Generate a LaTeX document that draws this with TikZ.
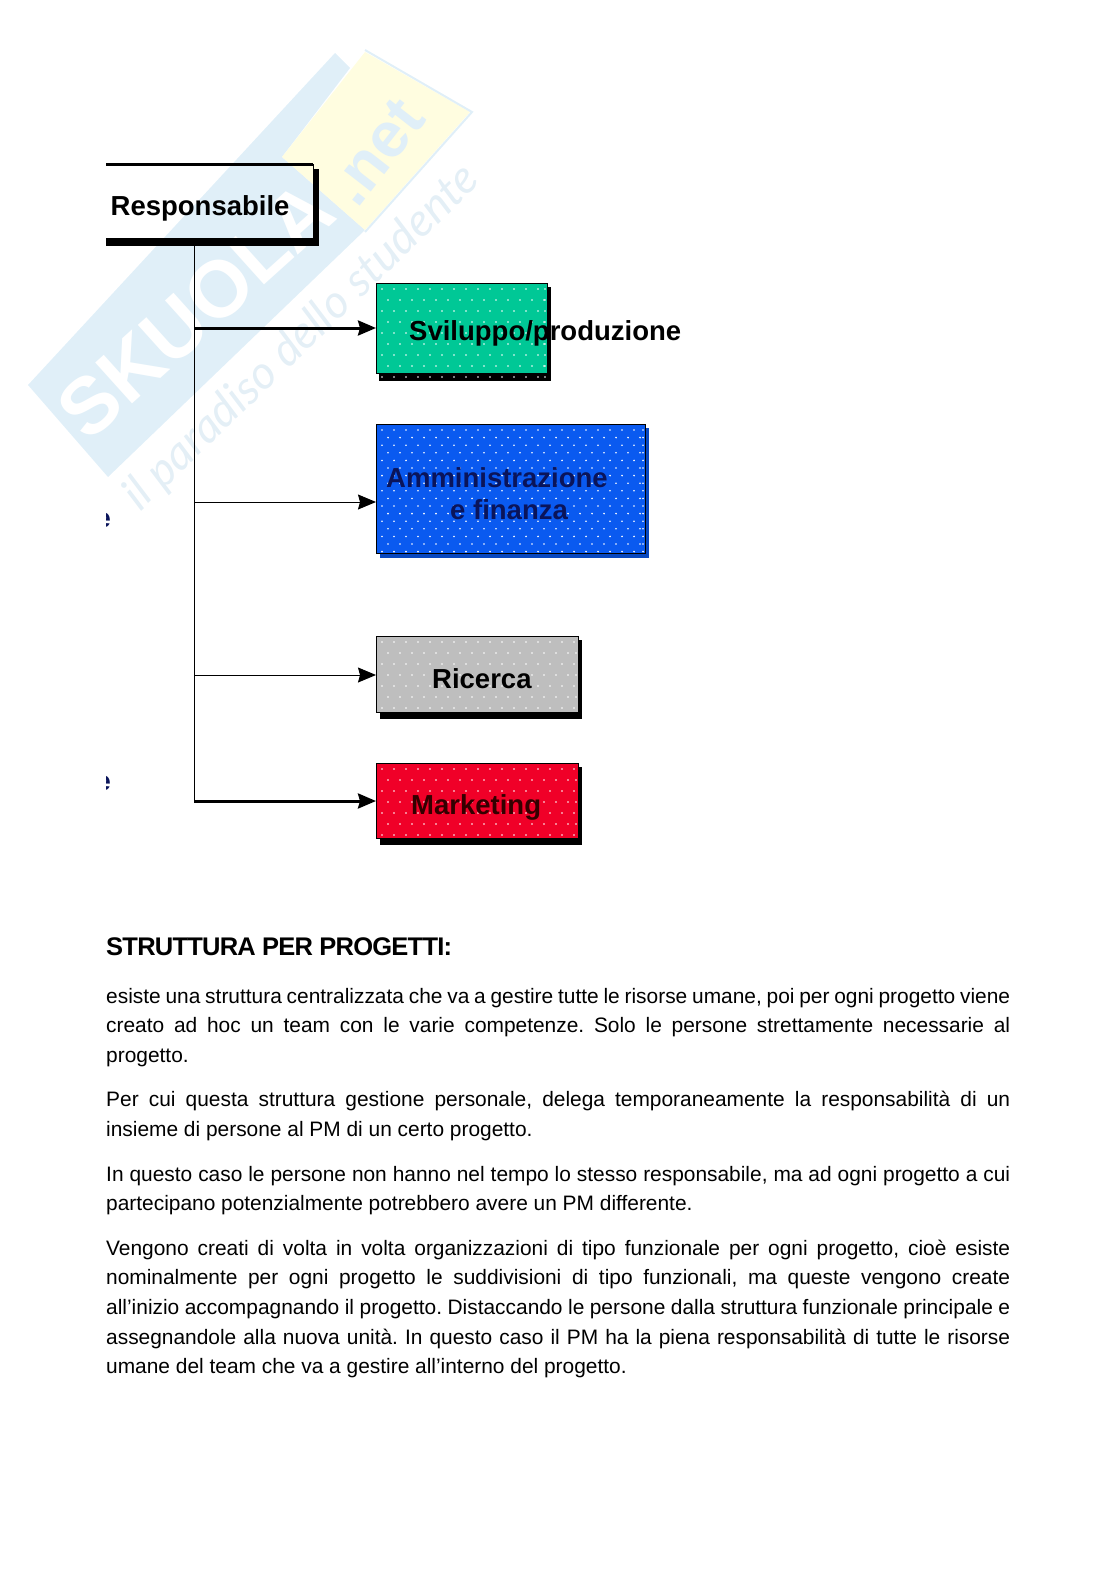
\documentclass[tikz,border=0pt]{standalone}
\usepackage{fontspec}
\setmainfont{Liberation Sans}
\newfontfamily\wmfont{Lato}[ItalicFont=* Italic]
\usetikzlibrary{arrows.meta}
\definecolor{wmblue}{RGB}{224,239,248}
\definecolor{wmyellow}{RGB}{255,253,224}
\definecolor{wmtext}{RGB}{228,239,246}
\definecolor{cgreen}{RGB}{0,200,150}
\definecolor{cblue}{RGB}{10,90,240}
\definecolor{cgrey}{RGB}{190,190,190}
\definecolor{cred}{RGB}{240,0,40}
\definecolor{navy}{RGB}{10,20,90}
\newcommand{\wdots}[5]{%
  \pgfmathtruncatemacro\nr{(#4-#2)/#5}%
  \pgfmathtruncatemacro\nc{(#3-#1)/12}%
  \foreach \r in {0,...,\nr}{\foreach \c in {0,...,\nc}{%
    \pgfmathsetmacro\xx{min(#3-1,#1+5+12*\c+6*mod(\r,2))}%
    \pgfmathsetmacro\yy{#2+5+#5*\r}%
    \fill[white] (\xx,\yy) circle[radius=0.9];}}}
\newcommand{\jl}[1]{\hbox to 904pt{\spaceskip=.278em plus 1fil minus .2em\relax #1}}
\tikzset{
  x=1pt,y=-1pt,
  boxlabel/.style={anchor=base west,inner sep=0pt,font=\fontsize{27.5}{30}\selectfont\bfseries},
  colorbox/.style={rectangle,inner sep=0pt,draw=black,line width=1.4pt,anchor=north west},
  shade/.style={fill=black},
  bodyline/.style={anchor=base west,inner sep=0pt,font=\fontsize{20.9}{24}\selectfont},
  heading/.style={anchor=base west,inner sep=0pt,font=\fontsize{25.5}{30}\selectfont\bfseries\addfontfeature{LetterSpace=-3}},
  thinlink/.style={line width=1pt,-{Stealth[length=18pt,width=15pt,inset=2pt]}},
  thicklink/.style={line width=3pt,-{Stealth[length=18pt,width=15pt,inset=2pt]}},
  trunk/.style={line width=1pt}
}
\begin{document}
\frenchspacing
\begin{tikzpicture}
\useasboundingbox (0,0) rectangle (1116,1579);
% watermark
\fill[wmblue] (28,385) -- (335,53) -- (350,68) -- (282,157) -- (365,230) -- (108,477) -- cycle;
\fill[wmyellow] (365,52) -- (470,112) -- (365,230) -- (282,157) -- cycle;
\draw[wmblue,line width=2pt] (365,50) -- (472,112) -- (365,232);
\node[rotate=42,text=white,inner sep=0pt,font=\fontsize{80}{90}\selectfont\bfseries] (wmname) at (196,310) {SKUOLA};
\node[rotate=52,text=wmblue,inner sep=0pt,font=\fontsize{64}{70}\selectfont\bfseries] (wmnet) at (376,152) {.net};
\node[rotate=44,text=wmtext,inner sep=0pt,font=\fontsize{46}{50}\selectfont\wmfont\itshape] (wmtag) at (302,338) {il paradiso dello studente};
% stray clipped fragments
\begin{scope}
\clip (106,500) rectangle (110,800);
\node[anchor=base east,inner sep=0pt,text=navy,font=\fontsize{27}{30}\selectfont\bfseries] (frag1) at (111,527) {e};
\node[anchor=base east,inner sep=0pt,text=navy,font=\fontsize{27}{30}\selectfont\bfseries] (frag2) at (111,790) {e};
\end{scope}
% shadows
\fill[shade] (106,238) rectangle (319,246);
\fill[shade] (313,169) rectangle (319,246);
\fill[shade] (379,287) rectangle (551,381);
\fill[cblue!80!black] (380,428) rectangle (649,558);
\fill[shade] (380,640) rectangle (582,719);
\fill[shade] (380,767) rectangle (582,845);
% boxes
\node[anchor=north west,inner sep=0pt,minimum width=207pt,minimum height=74pt] (resp) at (106,164) {};
\draw[line width=3pt] (resp.north west) -- (resp.north east);
\draw[line width=1.2pt] (resp.north east) -- (resp.south east);
\node[colorbox,fill=cgreen,minimum width=171pt,minimum height=90pt] (svil) at (376,283) {};
\node[colorbox,fill=cblue,minimum width=269pt,minimum height=129pt] (amm) at (376,424) {};
\node[colorbox,fill=cgrey,minimum width=202pt,minimum height=76pt] (ric) at (376,636) {};
\node[colorbox,fill=cred,minimum width=202pt,minimum height=75pt] (mkt) at (376,763) {};
% dots
\wdots{377}{284}{546}{372}{11}
\wdots{377}{425}{644}{552}{7.6}
\wdots{377}{637}{577}{711}{11}
\wdots{377}{764}{577}{837}{11}
% connectors
\coordinate (j0) at (194,246);
\coordinate (j1) at (194,328);
\coordinate (j2) at (194,502);
\coordinate (j3) at (194,675);
\coordinate (j4) at (194,801);
\draw[trunk] (j0) -- (j4);
\draw[thicklink] (j1) -- (j1 -| svil.west);
\draw[thinlink] (j2) -- (j2 -| amm.west);
\draw[thinlink] (j3) -- (j3 -| ric.west);
\draw[thicklink] (j4) -- (j4 -| mkt.west);
% labels
\node[boxlabel] (t0) at (110.5,215) {Responsabile};
\node[boxlabel] (t1) at (409,340) {Sviluppo/produzione};
\node[boxlabel,text=navy] (t2) at (386,487) {Amministrazione};
\node[boxlabel,text=navy] (t3) at (450,519.5) {e finanza};
\node[boxlabel] (t4) at (432,688) {Ricerca};
\node[boxlabel,text=black!80!red] (t5) at (411,814) {Marketing};
% text
\node[heading] (h) at (106,955) {STRUTTURA PER PROGETTI:};
\node[bodyline] (l1) at (106,1003) {\jl{esiste una struttura centralizzata che va a gestire tutte le risorse umane, poi per ogni progetto viene}};
\node[bodyline] (l2) at (106,1032) {\jl{creato ad hoc un team con le varie competenze. Solo le persone strettamente necessarie al}};
\node[bodyline] (l3) at (106,1062) {progetto.};
\node[bodyline] (l4) at (106,1106) {\jl{Per cui questa struttura gestione personale, delega temporaneamente la responsabilità di un}};
\node[bodyline] (l5) at (106,1136) {insieme di persone al PM di un certo progetto.};
\node[bodyline] (l6) at (106,1181) {\jl{In questo caso le persone non hanno nel tempo lo stesso responsabile, ma ad ogni progetto a cui}};
\node[bodyline] (l7) at (106,1210) {partecipano potenzialmente potrebbero avere un PM differente.};
\node[bodyline] (l8) at (106,1255) {\jl{Vengono creati di volta in volta organizzazioni di tipo funzionale per ogni progetto, cioè esiste}};
\node[bodyline] (l9) at (106,1284) {\jl{nominalmente per ogni progetto le suddivisioni di tipo funzionali, ma queste vengono create}};
\node[bodyline] (l10) at (106,1314) {\jl{all’inizio accompagnando il progetto. Distaccando le persone dalla struttura funzionale principale e}};
\node[bodyline] (l11) at (106,1344) {\jl{assegnandole alla nuova unità. In questo caso il PM ha la piena responsabilità di tutte le risorse}};
\node[bodyline] (l12) at (106,1373) {umane del team che va a gestire all’interno del progetto.};
\end{tikzpicture}
\end{document}
